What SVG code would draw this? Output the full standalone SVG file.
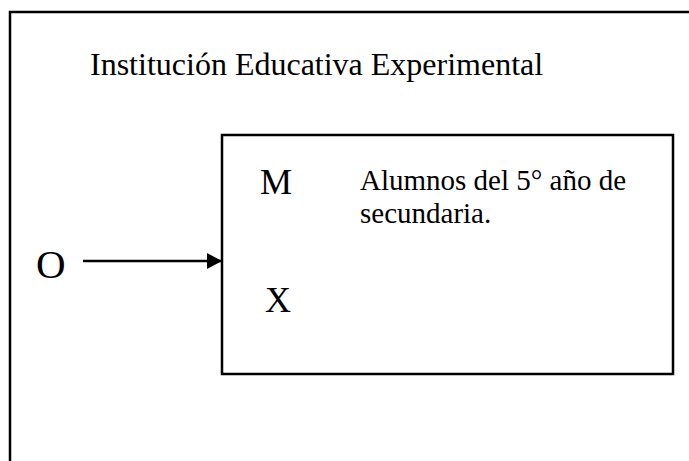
<svg xmlns="http://www.w3.org/2000/svg" width="689" height="461" viewBox="0 0 689 461">
<style>
.t{font-family:"Liberation Serif","Times New Roman",serif;fill:#000}
.ln{fill:none;stroke:#000;stroke-width:2.5}
</style>
<defs>
<marker id="ah" markerWidth="16" markerHeight="16" refX="15" refY="8" orient="auto" markerUnits="userSpaceOnUse">
<path d="M0,0 L15,8 L0,16 Z" fill="#000"/>
</marker>
</defs>
<rect width="689" height="461" fill="#fff"/>
<g id="frame">
<path class="ln" d="M10,470 L10,12 L700,12"/>
<text class="t" x="90" y="75" font-size="32">Institución Educativa Experimental</text>
</g>
<g id="node-O">
<text class="t" x="36" y="278" font-size="41">O</text>
</g>
<g id="node-box">
<rect class="ln" x="222" y="135" width="451" height="239"/>
<text class="t" x="260" y="194" font-size="36">M</text>
<text class="t" x="265" y="312" font-size="36">X</text>
<text class="t" x="360" y="190" font-size="29">Alumnos del 5° año de</text>
<text class="t" x="360" y="223" font-size="29">secundaria.</text>
</g>
<g id="connectors">
<line x1="83" y1="261" x2="222" y2="261" stroke="#000" stroke-width="2.5" marker-end="url(#ah)"/>
</g>
</svg>
